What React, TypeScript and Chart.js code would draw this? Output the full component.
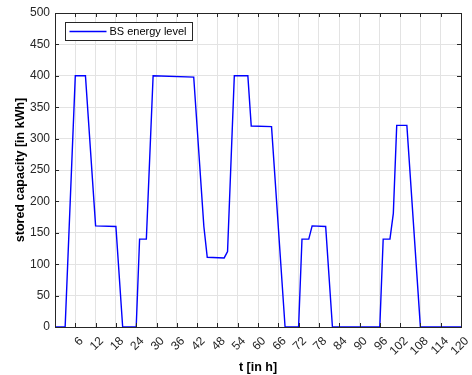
import React, { useEffect, useRef } from "react";
import { Chart, registerables } from "chart.js";

Chart.register(...registerables);

const hours = [0, 3, 6, 9, 12, 18, 20, 24, 25, 27, 29, 41, 44, 45, 50, 51, 53, 57, 58, 64, 68, 72, 73, 75, 76, 80, 82, 96, 97, 99, 100, 101, 104, 108, 120];
const storedKWh = [0, 0, 400, 400, 161, 160, 0, 0, 140, 140, 400, 398, 160, 111, 110, 120, 400, 400, 320, 319, 0, 0, 140, 140, 161, 160, 0, 0, 140, 140, 181, 321, 321, 0, 0];
const seriesLabel = "BS energy level";
const xTitle = "t [in h]";
const yTitle = "stored capacity [in kWh]";

const AXIS_COLOR = "#262626";
const FONT = "'Liberation Sans', Arial, Helvetica, sans-serif";

const framePlugin = {
  id: "matlabFrame",
  afterDatasetsDraw(chart: any) {
    const { ctx, chartArea, scales } = chart;
    const { left, right, top, bottom } = chartArea;
    ctx.save();
    ctx.strokeStyle = AXIS_COLOR;
    ctx.lineWidth = 1;
    const tl = 4;
    ctx.beginPath();
    scales.x.ticks.forEach((t: any) => {
      const px = Math.round(scales.x.getPixelForValue(t.value)) + 0.5;
      ctx.moveTo(px, bottom);
      ctx.lineTo(px, bottom - tl);
      ctx.moveTo(px, top);
      ctx.lineTo(px, top + tl);
    });
    scales.y.ticks.forEach((t: any) => {
      const py = Math.round(scales.y.getPixelForValue(t.value)) + 0.5;
      ctx.moveTo(left, py);
      ctx.lineTo(left + tl, py);
      ctx.moveTo(right, py);
      ctx.lineTo(right - tl, py);
    });
    ctx.stroke();
    ctx.strokeRect(Math.round(left) + 0.5, Math.round(top) + 0.5, Math.round(right - left), Math.round(bottom - top));

    // legend box
    const bx = Math.round(left) + 10.5;
    const by = Math.round(top) + 9.5;
    const bw = 127;
    const bh = 18;
    ctx.fillStyle = "#ffffff";
    ctx.fillRect(bx, by, bw, bh);
    ctx.strokeRect(bx, by, bw, bh);
    ctx.strokeStyle = "#0000ff";
    ctx.lineWidth = 1.3;
    ctx.beginPath();
    ctx.moveTo(bx + 4, by + bh / 2);
    ctx.lineTo(bx + 41, by + bh / 2);
    ctx.stroke();
    ctx.fillStyle = "#000000";
    ctx.font = `11px ${FONT}`;
    ctx.textBaseline = "middle";
    ctx.textAlign = "left";
    ctx.fillText(seriesLabel, bx + 44, by + bh / 2 + 0.5);
    ctx.restore();
  },
};

export default function App() {
  const ref = useRef<HTMLCanvasElement>(null);
  useEffect(() => {
    document.body.style.margin = "0";
    const canvas = ref.current!;
    const data = hours.map((h, i) => ({ x: h, y: storedKWh[i] }));
    const chart = new Chart(canvas, {
      type: "line",
      data: {
        datasets: [
          {
            label: seriesLabel,
            data,
            borderColor: "#0000ff",
            borderWidth: 1.4,
            pointRadius: 0,
            tension: 0,
            fill: false,
          },
        ],
      },
      options: {
        animation: false,
        responsive: false,
        devicePixelRatio: 1,
        layout: { padding: { left: 0, top: 13, right: 11, bottom: 0 } },
        plugins: { legend: { display: false }, tooltip: { enabled: false } },
        scales: {
          x: {
            type: "linear",
            min: 0,
            max: 120,
            afterFit: (s: any) => {
              s.height = 48;
              s.paddingLeft = 0;
              s.paddingRight = 0;
              s.paddingTop = 0;
              s.paddingBottom = 0;
            },
            border: { display: false },
            grid: { color: "#e3e3e3", drawTicks: false, lineWidth: 1 },
            ticks: {
              stepSize: 6,
              autoSkip: false,
              maxRotation: 45,
              minRotation: 45,
              padding: 7,
              labelOffset: 6,
              color: AXIS_COLOR,
              font: { family: FONT, size: 12 },
              callback: (v: any) => (v === 0 ? "" : String(v)),
            },
            title: {
              display: true,
              text: xTitle,
              color: "#000000",
              font: { family: FONT, size: 12.5, weight: "bold" },
              padding: { top: 0, bottom: 0 },
            },
          },
          y: {
            min: 0,
            max: 500,
            afterFit: (s: any) => {
              s.width = 55;
              s.paddingLeft = 0;
              s.paddingRight = 0;
              s.paddingTop = 0;
              s.paddingBottom = 0;
            },
            border: { display: false },
            grid: { color: "#e3e3e3", drawTicks: false, lineWidth: 1 },
            ticks: {
              stepSize: 50,
              padding: 5,
              color: AXIS_COLOR,
              font: { family: FONT, size: 12 },
            },
            title: {
              display: true,
              text: yTitle,
              color: "#000000",
              font: { family: FONT, size: 12.5, weight: "bold" },
              padding: { top: 13, bottom: 0 },
            },
          },
        },
      },
      plugins: [framePlugin],
    });
    return () => chart.destroy();
  }, []);
  return <canvas ref={ref} width={472} height={375} style={{ display: "block" }} />;
}
